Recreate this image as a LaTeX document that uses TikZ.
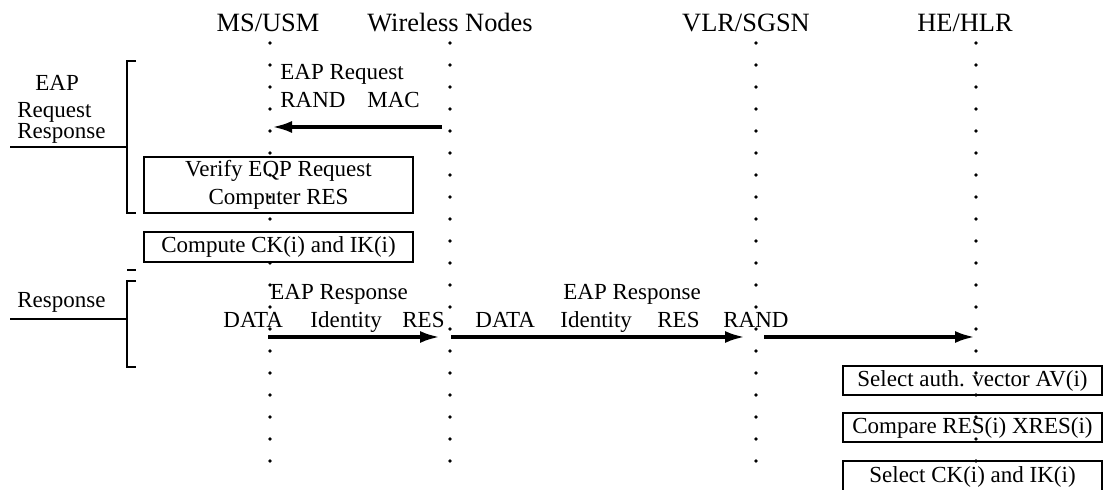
\documentclass[tikz,border=0pt]{standalone}
\usepackage{fontspec}
\setmainfont{Liberation Serif}
\usetikzlibrary{arrows.meta}

\begin{document}
\begin{tikzpicture}[x=0.5pt,y=-0.5pt,
        % define styles
        entity/.style={
             font=\fontsize{13.2}{15}\selectfont,
             inner sep=0pt,
             anchor=base
        },
        msg/.style={
             font=\fontsize{11.5}{14}\selectfont,
             inner sep=0pt,
             anchor=base west
        },
        stepbox/.style={
             draw,
             line width=0.65pt,
             inner sep=0pt,
             align=center,
             font=\fontsize{11.5}{14}\selectfont
        },
        lifeline/.style={
             line width=1.8pt,
             line cap=round,
             dash pattern=on 0pt off 11pt
        },
        sendarrow/.style={
             line width=1.8pt,
             -{Latex[length=10pt,width=6pt]}
        },
        bracket/.style={
             line width=0.6pt
        }
    ]
        \useasboundingbox (0,0) rectangle (1104,490);

        % entities on top
        \node[entity] (ms) at (268,32) {MS/USM};
        \node[entity] (wn) at (450,32) {Wireless Nodes};
        \node[entity] (vlr) at (746,32) {VLR/SGSN};
        \node[entity] (hlr) at (965,32) {HE/HLR};

        % lifelines
        \coordinate (ms-top) at (270,43);  \coordinate (ms-bot) at (270,463);
        \coordinate (wn-top) at (450,43);  \coordinate (wn-bot) at (450,463);
        \coordinate (vlr-top) at (756,43); \coordinate (vlr-bot) at (756,463);
        \coordinate (hlr-top) at (976,43); \coordinate (hlr-bot) at (976,463);
        \draw[lifeline] (ms-top) -- (ms-bot);
        \draw[lifeline] (wn-top) -- (wn-bot);
        \draw[lifeline] (vlr-top) -- (vlr-bot);
        \draw[lifeline] (hlr-top) -- (hlr-bot);

        % left brackets
        \node[msg] (eap) at (35,91) {EAP};
        \node[msg] (req) at (17,118) {Request};
        \node[msg] (resp1) at (17,139) {Response};
        \coordinate (reqbr) at (127,147);
        \draw[bracket] (136,61) -- (127,61) -- (127,213) -- (136,213);
        \draw[bracket] (10,147) -- (reqbr);
        \draw[bracket] (127,270) -- (136,270);

        \node[msg] (resp2) at (17,308) {Response};
        \coordinate (respbr) at (127,319);
        \draw[bracket] (136,281) -- (127,281) -- (127,367) -- (136,367);
        \draw[bracket] (10,319) -- (respbr);

        % EAP request
        \node[msg] (eapreq) at (280,80) {EAP Request};
        \node[msg] (rand1) at (280,108) {RAND};
        \node[msg] (mac1) at (367,108) {MAC};
        \coordinate (wn-req) at (442,127);
        \coordinate (ms-req) at (272,127);
        \draw[sendarrow] (wn-req) -- (ms-req);

        % steps at the MS
        \node[stepbox, minimum width=134.5pt, minimum height=28pt] (verify) at (278.5,185)
            {Verify EQP Request\\Computer RES};
        \node[stepbox, minimum width=134.5pt, minimum height=15pt] (ckik) at (278.5,247)
            {Compute CK(i) and IK(i)};

        % EAP response, MS to wireless nodes
        \node[msg] (eapres1) at (270,300) {EAP Response};
        \node[msg] (data1) at (223,328) {DATA};
        \node[msg] (ident1) at (310,328) {Identity};
        \node[msg] (res1) at (402,328) {RES};

        % EAP response, wireless nodes to VLR
        \node[msg] (eapres2) at (563,300) {EAP Response};
        \node[msg] (data2) at (475,328) {DATA};
        \node[msg] (ident2) at (560,328) {Identity};
        \node[msg] (res2) at (657,328) {RES};
        \node[msg] (rand2) at (723,328) {RAND};

        \coordinate (ms-res) at (268,337);  \coordinate (wn-res) at (440,337);
        \coordinate (wn-out) at (451,337);  \coordinate (vlr-res) at (745,337);
        \coordinate (vlr-out) at (764,337); \coordinate (hlr-res) at (975,337);
        \draw[sendarrow] (ms-res) -- (wn-res);
        \draw[sendarrow] (wn-out) -- (vlr-res);
        \draw[sendarrow] (vlr-out) -- (hlr-res);

        % steps at the HLR
        \node[stepbox, minimum width=129.5pt, minimum height=14.5pt] (selav) at (972.5,380.5)
            {Select auth. vector AV(i)};
        \node[stepbox, minimum width=129.5pt, minimum height=14.5pt] (cmpres) at (972.5,427.5)
            {Compare RES(i) XRES(i)};
        \node[stepbox, minimum width=129.5pt, minimum height=15.5pt] (selck) at (972.5,476.5)
            {Select CK(i) and IK(i)};
    \end{tikzpicture}
\end{document}
